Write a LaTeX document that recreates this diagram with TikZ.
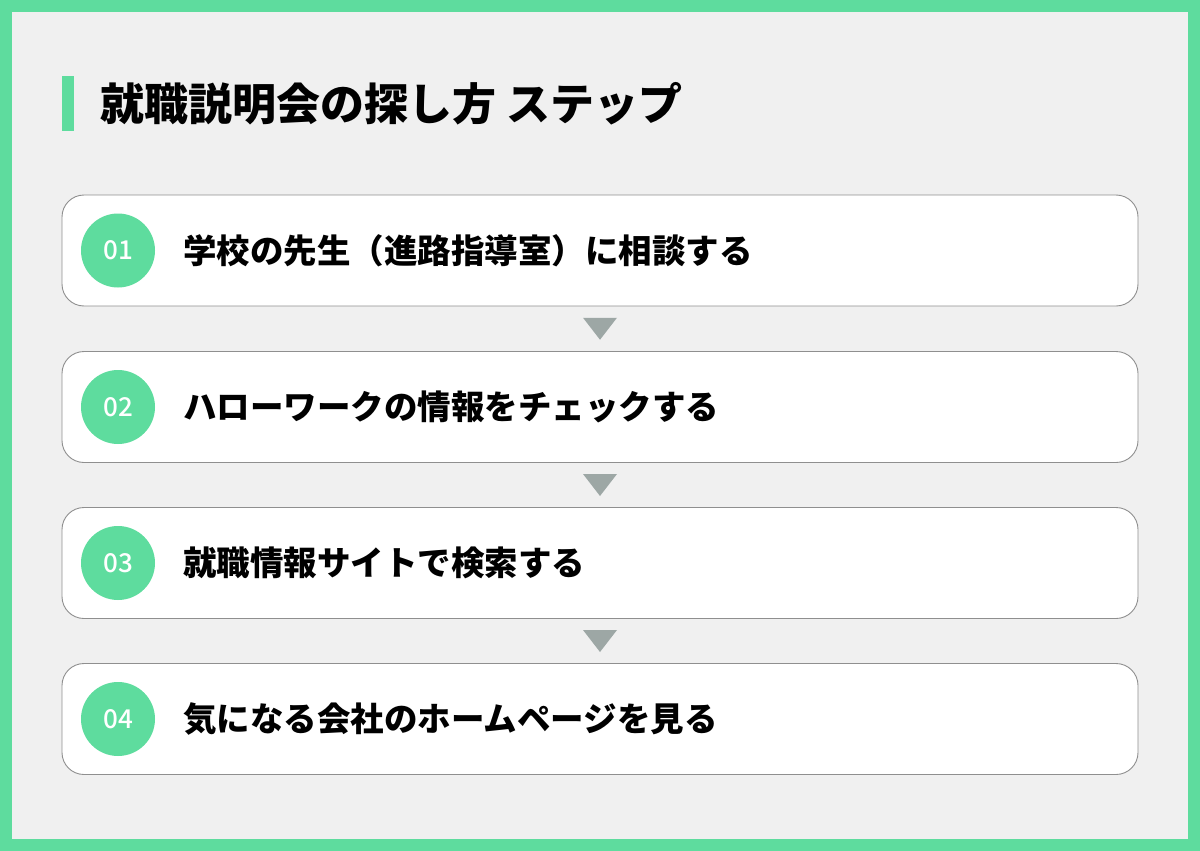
\documentclass[tikz,border=0pt]{standalone}
\usepackage{fontspec}
\setmainfont{Noto Sans CJK JP}
\newfontfamily\numfont{Noto Sans CJK JP Medium}
\usetikzlibrary{positioning,calc}

\definecolor{mintgreen}{HTML}{5EDC9E}
\definecolor{panelgray}{HTML}{F0F0F0}
\definecolor{framegray}{HTML}{8F8F8F}
\definecolor{arrowgray}{HTML}{9DA7A5}

\tikzset{
  stepbox/.style={draw=framegray, line width=0.9pt, fill=white, rounded corners=22pt,
    minimum width=1076pt, minimum height=111pt, inner sep=0pt},
  numdot/.style={circle, fill=mintgreen, minimum size=74pt, inner sep=0pt,
    text=white, font=\numfont\fontsize{26}{26}\selectfont},
  steptext/.style={anchor=west, inner sep=0pt, font=\bfseries\fontsize{33.5}{40}\selectfont},
}

\begin{document}
\begin{tikzpicture}[x=1pt, y=-1pt]
  \useasboundingbox (0,0) rectangle (1200,851);

  % frame and panel
  \fill[mintgreen] (0,0) rectangle (1200,851);
  \fill[panelgray] (12,12) rectangle (1188,839);

  % title with marker bar
  \fill[mintgreen] (62,76) rectangle (74,131);
  \node[anchor=west, inner sep=0pt, font=\bfseries\fontsize{44}{50}\selectfont] (title) at (100,104) {就職説明会の探し方 ステップ};

  % step boxes
  \foreach \i/\y/\txt in {1/250.5/{学校の先生（進路指導室）に相談する},
                          2/407/{ハローワークの情報をチェックする},
                          3/563/{就職情報サイトで検索する},
                          4/719/{気になる会社のホームページを見る}} {
    \node[stepbox] (step\i) at (600,\y) {};
    \node[numdot] (num\i) at (118,\y) {0\i};
    \node[steptext] (text\i) at (183,\y) {\txt};
  }

  % arrows between steps
  \foreach \i/\j in {1/2, 2/3, 3/4} {
    \fill[arrowgray] ($(step\i.south)!0.5!(step\j.north)+(-17,-11)$) -- ++(34,0) -- ++(-17,22) -- cycle;
  }
\end{tikzpicture}
\end{document}
